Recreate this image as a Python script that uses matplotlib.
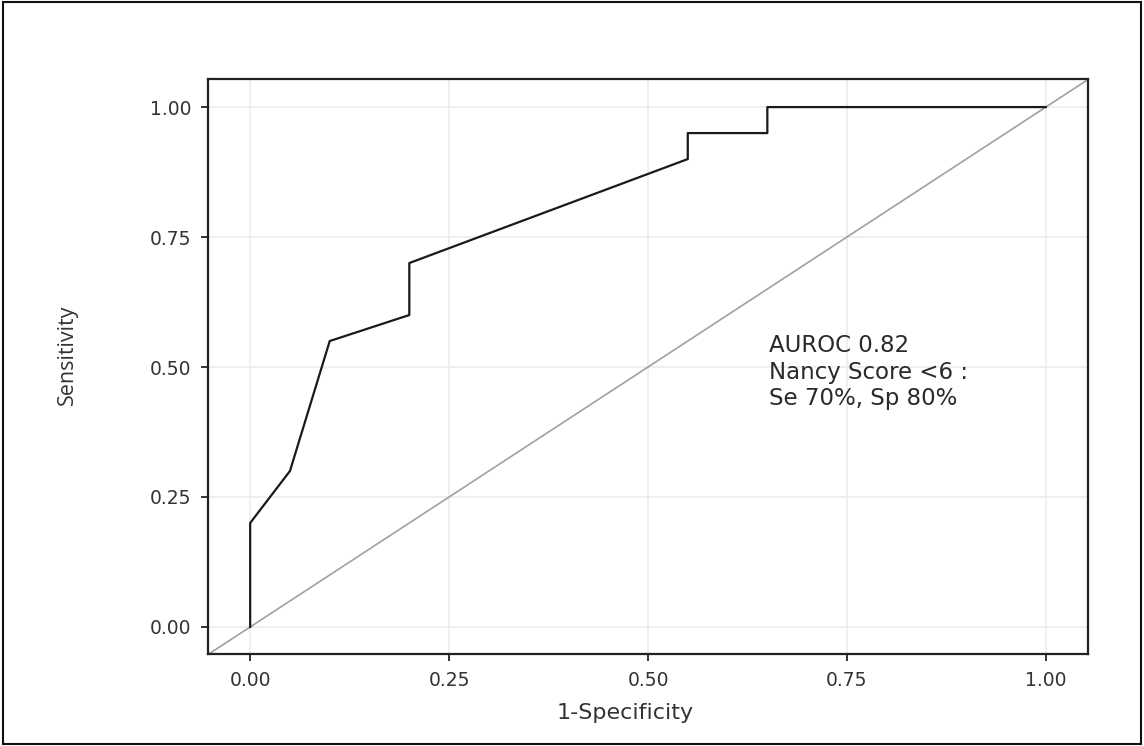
import matplotlib
matplotlib.use("Agg")
import matplotlib.pyplot as plt
from matplotlib.patches import Rectangle

# ROC curve data (1-Specificity, Sensitivity)
fpr = [0.0, 0.0, 0.05, 0.10, 0.20, 0.20, 0.55, 0.55, 0.65, 0.65, 1.0]
tpr = [0.0, 0.20, 0.30, 0.55, 0.60, 0.70, 0.90, 0.95, 0.95, 1.00, 1.00]
ticks = [0.0, 0.25, 0.50, 0.75, 1.00]
tick_labels = ["0.00", "0.25", "0.50", "0.75", "1.00"]
annotation = "AUROC 0.82\nNancy Score <6 :\nSe 70%, Sp 80%"

W, H = 1144, 746
fig = plt.figure(figsize=(W / 100, H / 100), dpi=100)
fig.patch.set_facecolor("white")

# axes placement in pixels
left, right, top, bottom = 208, 1088, 79, 654
ax = fig.add_axes([left / W, 1 - bottom / H, (right - left) / W, (bottom - top) / H])

ax.set_xlim(-0.053, 1.053)
ax.set_ylim(-0.052, 1.054)

ax.grid(True, color="#ebebeb", lw=1.1, zorder=0)
ax.set_axisbelow(True)

# diagonal reference line
ax.axline((0, 0), (1, 1), color="#a0a0a0", lw=1.2, zorder=2)
# ROC curve
ax.plot(fpr, tpr, color="#1a1a1a", lw=1.6, zorder=3)

ax.set_xticks(ticks)
ax.set_xticklabels(tick_labels)
ax.set_yticks(ticks)
ax.set_yticklabels(tick_labels)
ax.tick_params(direction="out", length=5, width=1.3, color="#222222",
               labelsize=13.5, labelcolor="#333333", pad=7)
for lab in ax.get_xticklabels() + ax.get_yticklabels():
    lab.set_fontfamily("DejaVu Sans")
for s in ax.spines.values():
    s.set_color("#222222")
    s.set_linewidth(1.6)

ax.text(0.652, 0.49, annotation, fontsize=16.5, family="DejaVu Sans",
        color="#2a2a2a", va="center", ha="left", linespacing=1.18)

fig.text(625 / W, 1 - 713 / H, "1-Specificity", ha="center", va="center",
         fontsize=16, family="DejaVu Sans", color="#333333")
fig.text(67 / W, 1 - 355 / H, "Sensitivity", ha="center", va="center",
         rotation=90, fontsize=15.5, family="Open Sans", color="#333333")

# outer frame
fig.patches.append(Rectangle((3 / W, 2 / H), (W - 6) / W, (H - 4) / H,
                             transform=fig.transFigure, fill=False,
                             edgecolor="#111111", lw=1.5))

fig.savefig("out.png", dpi=100)
